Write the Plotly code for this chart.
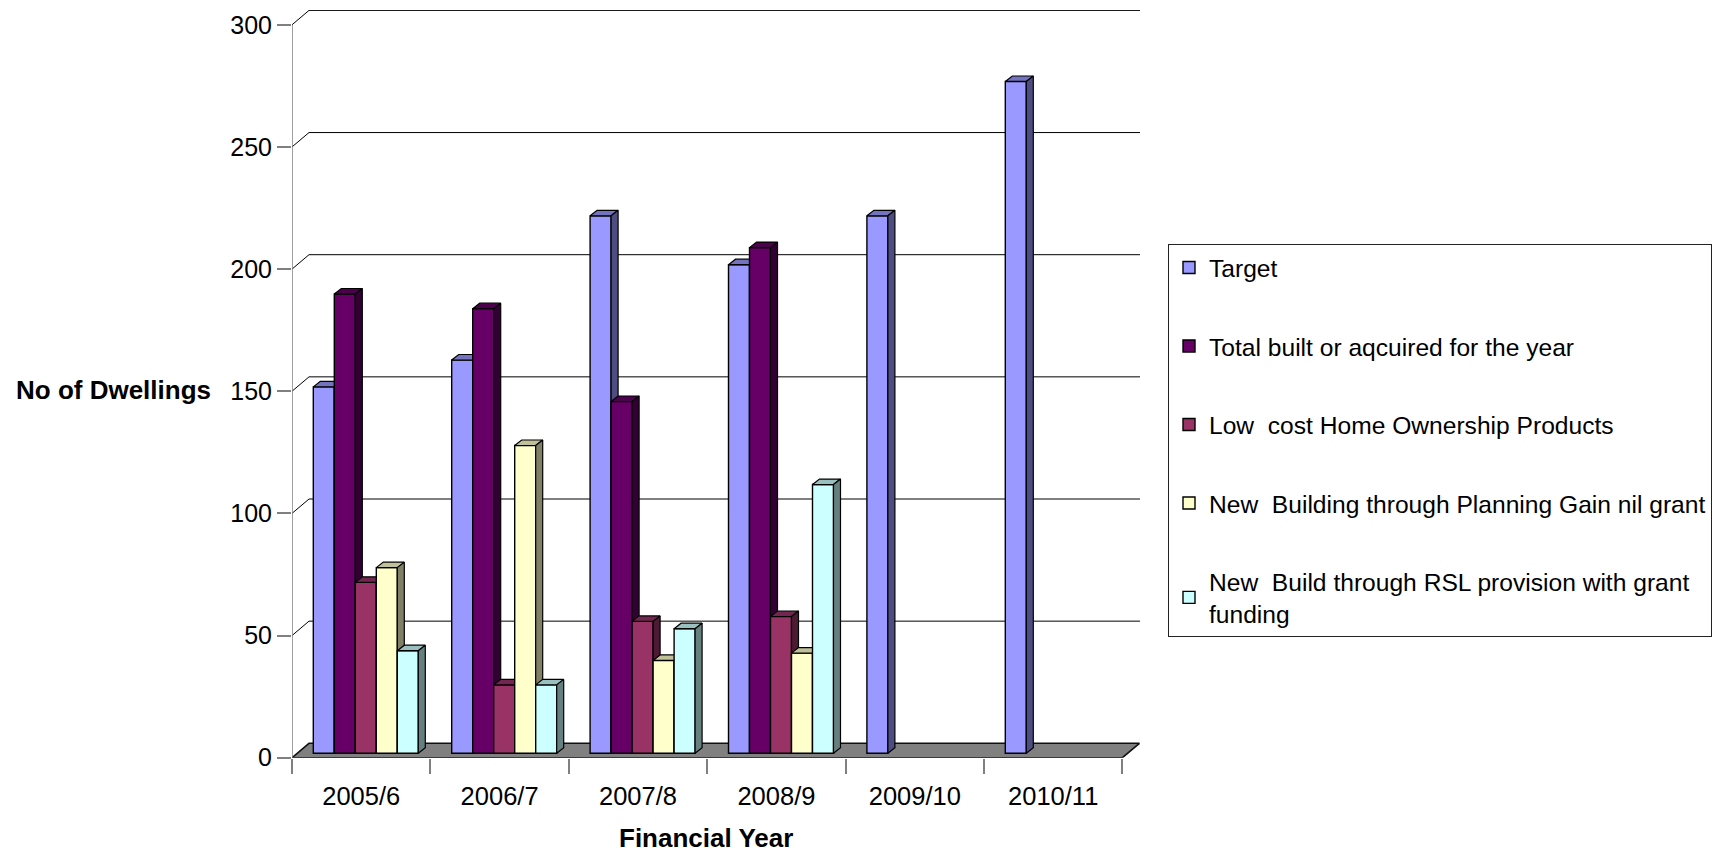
import plotly.graph_objects as go

categories = ["2005/6", "2006/7", "2007/8", "2008/9", "2009/10", "2010/11"]
series_names = [
    "Target",
    "Total built or aqcuired for the year",
    "Low  cost Home Ownership Products",
    "New  Building through Planning Gain nil grant",
    "New  Build through RSL provision with grant<br>funding",
]
target = [150, 161, 220, 200, 220, 275]
total_built = [188, 182, 144, 207, None, None]
low_cost = [70, 28, 54, 56, None, None]
new_building = [76, 126, 38, 41, None, None]
rsl_build = [42, 28, 51, 110, None, None]
all_series = [target, total_built, low_cost, new_building, rsl_build]
front_colors = ["#9999FF", "#660066", "#993366", "#FFFFCC", "#CCFFFF"]
top_colors = ["#7373BF", "#4D004D", "#732650", "#C0C099", "#99BFBF"]
side_colors = ["#4D4D80", "#330033", "#4D1A33", "#808066", "#668080"]
y_ticks = [0, 50, 100, 150, 200, 250, 300]

W, H = 1724, 852
PX_L, PX_R, PX_T, PX_B = 292, 1140, 10, 757.7
PX_CAT = 138.4
PX_UNIT = 2.443
x_max = (PX_R - PX_L) / PX_CAT
y_max = (PX_B - PX_T) / PX_UNIT
wall_dx, wall_dy = 17 / PX_CAT, 14.4 / PX_UNIT
bar_dx, bar_dy = 7 / PX_CAT, 5.5 / PX_UNIT
bar_w = 21 / PX_CAT
group_left = 21.3 / PX_CAT
base = 4.4 / PX_UNIT
FONT = "Liberation Sans"
dom_x = [PX_L / W, PX_R / W]
dom_y = [1 - PX_B / H, 1 - PX_T / H]

fig = go.Figure()

# floor and back wall, built from the axis ticks
n = len(categories)
fig.add_trace(go.Scatter(
    x=[0, wall_dx, n + wall_dx, n, 0], y=[0, wall_dy, wall_dy, 0, 0],
    mode="lines", fill="toself", fillcolor="#808080",
    line=dict(color="#111111", width=1.6), hoverinfo="skip", showlegend=False))
gx, gy = [], []
for v in y_ticks[1:]:
    gx += [0, wall_dx, x_max, None]
    gy += [v, v + wall_dy, v + wall_dy, None]
fig.add_trace(go.Scatter(x=gx, y=gy, mode="lines", line=dict(color="#000000", width=1),
                         hoverinfo="skip", showlegend=False))

# each series gets an overlaying subplot, so later bars hide the faces of earlier ones
for i, (name, vals) in enumerate(zip(series_names, all_series)):
    k = i + 2
    xa, ya = f"x{k}", f"y{k}"
    xs = [c + group_left + (i + 0.5) * bar_w for c in range(n)]
    fig.add_trace(go.Bar(
        x=xs, y=vals, base=base, width=bar_w, name=name, xaxis=xa, yaxis=ya,
        marker=dict(color=front_colors[i], line=dict(color="#000000", width=1.4)),
        legendgroup=name))
    for c, v in enumerate(vals):
        if v is None:
            continue
        l, r = c + group_left + i * bar_w, c + group_left + (i + 1) * bar_w
        t = v + base
        fig.add_trace(go.Scatter(
            x=[l, l + bar_dx, r + bar_dx, r, l],
            y=[t, t + bar_dy, t + bar_dy, t, t],
            xaxis=xa, yaxis=ya, mode="lines", fill="toself", fillcolor=top_colors[i],
            line=dict(color="#000000", width=1.2), hoverinfo="skip",
            showlegend=False, legendgroup=name))
        fig.add_trace(go.Scatter(
            x=[r, r + bar_dx, r + bar_dx, r, r],
            y=[t, t + bar_dy, base + bar_dy, base, t],
            xaxis=xa, yaxis=ya, mode="lines", fill="toself", fillcolor=side_colors[i],
            line=dict(color="#000000", width=1.2), hoverinfo="skip",
            showlegend=False, legendgroup=name))

layout = dict(
    width=W, height=H, margin=dict(l=0, r=0, t=0, b=0, pad=0, autoexpand=False),
    paper_bgcolor="white", plot_bgcolor="white", barmode="overlay",
    font=dict(family=FONT, size=25, color="#000000"),
    xaxis=dict(domain=dom_x, range=[0, x_max], showgrid=False, zeroline=False, showline=False,
               tickmode="array", tickvals=[c + 0.5 for c in range(n)], ticktext=categories,
               ticks="outside", ticklen=16, tickcolor="rgba(0,0,0,0)", tickfont=dict(size=25.5),
               minor=dict(tickmode="array", tickvals=list(range(n + 1)), ticks="outside",
                          ticklen=15, tickcolor="#808080", tickwidth=1.5, showgrid=False)),
    yaxis=dict(domain=dom_y, range=[0, y_max], showgrid=False, zeroline=False, showline=False,
               tickmode="array", tickvals=y_ticks, ticks="outside", ticklen=14,
               tickcolor="#808080", tickwidth=1.5, tickfont=dict(size=25)),
    legend=dict(x=1168 / W, y=1 - 244 / H, xanchor="left", yanchor="top",
                bgcolor="white", bordercolor="#222222", borderwidth=1, itemwidth=30,
                entrywidthmode="pixels", entrywidth=498,
                font=dict(family=FONT, size=24.6), tracegroupgap=43.5, traceorder="grouped",
                itemclick=False, itemdoubleclick=False),
    shapes=[dict(type="line", xref="x", yref="y", x0=0, x1=0, y0=0, y1=300,
                 line=dict(color="#808080", width=1.5), layer="above")],
    annotations=[
        dict(text="<b>No of Dwellings</b>", xref="paper", yref="paper", x=113 / W, y=1 - 390 / H,
             xanchor="center", yanchor="middle", showarrow=False, font=dict(size=26)),
        dict(text="<b>Financial Year</b>", xref="paper", yref="paper", x=706 / W, y=1 - 838 / H,
             xanchor="center", yanchor="middle", showarrow=False, font=dict(size=26)),
    ],
)
for i in range(len(all_series)):
    k = i + 2
    layout[f"xaxis{k}"] = dict(domain=dom_x, range=[0, x_max], overlaying="x", visible=False)
    layout[f"yaxis{k}"] = dict(domain=dom_y, range=[0, y_max], overlaying="y", visible=False)
fig.update_layout(**layout)

fig.write_html("out.html", config={"displayModeBar": False},
               post_script="document.body.style.margin='0';")
